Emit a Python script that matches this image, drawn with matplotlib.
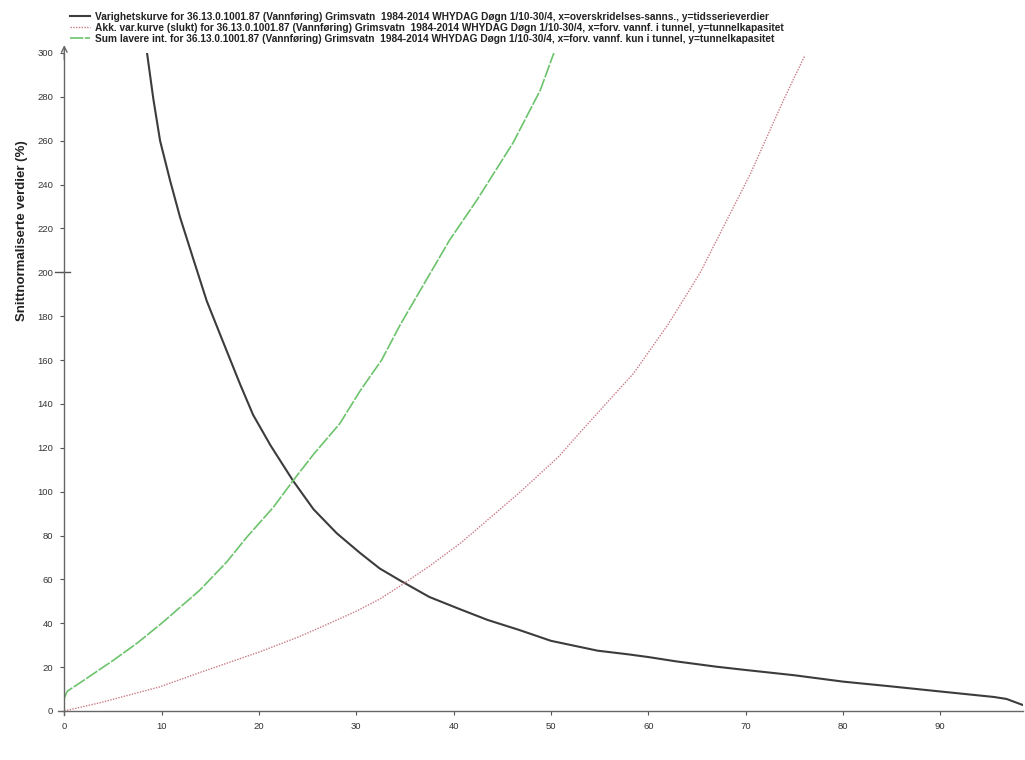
import matplotlib
matplotlib.use('Agg')
import matplotlib.pyplot as plt
import matplotlib.transforms as mtransforms

# varighetskurve (black)
dur_x = [8.5, 9.15, 9.84, 10.86, 11.9, 13.26, 14.63, 16.34, 18.06, 19.4, 21.2, 23.5, 25.6,
         28, 30.4, 32.4, 34.5, 37.5, 40.6, 43.5, 46.7, 50, 54.8, 58, 60, 62.9, 67, 70,
         75, 80, 85, 90, 95.5, 96.8, 98.5]
dur_y = [300, 279, 260, 242, 225, 206, 187, 168, 149, 135, 121, 105, 92,
         81, 72, 65, 59.5, 52, 46.5, 41.5, 37, 32, 27.5, 25.8, 24.6, 22.6, 20.2, 18.7,
         16.3, 13.4, 11.2, 8.9, 6.4, 5.5, 2.7]

# akk. var.kurve (red dotted)
akk_x = [0, 3.7, 9.8, 13.9, 20.1, 24.2, 27, 30, 32.4, 34.5, 37.5, 40.7, 46.7, 50.8, 52.3,
         56, 58.5, 62, 65.3, 70.5, 73.9, 76.1]
akk_y = [0, 3.8, 11, 17.5, 27, 34, 39.5, 45.5, 51, 57, 66, 76.5, 99.3, 116, 123.6,
         141.8, 154, 176, 199.6, 245, 278.6, 299]

# sum lavere int. (green dashed)
sum_x = [0, 0.3, 2, 5, 7.5, 10, 13.9, 16.7, 18.7, 21.5, 23.5, 25.6, 28.3, 30.4, 32.6,
         34.5, 36.6, 39.6, 42.4, 46.1, 48.9, 50.3]
sum_y = [6, 9, 14, 23, 31, 40, 55, 68, 79, 93, 105, 117, 131, 146, 160,
         176, 192, 214.8, 233, 259, 283, 300]

labels = [
    "Varighetskurve for 36.13.0.1001.87 (Vannføring) Grimsvatn  1984-2014 WHYDAG Døgn 1/10-30/4, x=overskridelses-sanns., y=tidsserieverdier",
    "Akk. var.kurve (slukt) for 36.13.0.1001.87 (Vannføring) Grimsvatn  1984-2014 WHYDAG Døgn 1/10-30/4, x=forv. vannf. i tunnel, y=tunnelkapasitet",
    "Sum lavere int. for 36.13.0.1001.87 (Vannføring) Grimsvatn  1984-2014 WHYDAG Døgn 1/10-30/4, x=forv. vannf. kun i tunnel, y=tunnelkapasitet",
]

plt.rcParams['font.family'] = ['Liberation Sans', 'DejaVu Sans']

fig = plt.figure(figsize=(10.25, 7.6), dpi=100)
ax = fig.add_axes([64.3 / 1025, 1 - 711 / 760, (1023 - 64.3) / 1025, (711 - 53) / 760])

l1, = ax.plot(dur_x, dur_y, color='#3c3c3c', lw=1.5)
l2, = ax.plot(akk_x, akk_y, color='#c97b86', lw=1.0, ls=(0, (1, 1)))
l3, = ax.plot(sum_x, sum_y, color='#6cc36c', lw=1.2, ls=(0, (8, 1)))

ax.set_xlim(0, 98.5)
ax.set_ylim(0, 300)
ax.set_xticks(range(0, 100, 10))
ax.set_yticks(range(0, 301, 20))
ax.tick_params(axis='both', direction='out', length=3, width=0.8, colors='#555555',
               labelsize=6.8, labelcolor='#333333', pad=5)

for s in ['top', 'right']:
    ax.spines[s].set_visible(False)
for s in ['left', 'bottom']:
    ax.spines[s].set_color('#666666')
    ax.spines[s].set_linewidth(1.0)

# little extensions of the axis lines and arrow on the y axis
ax.plot([-0.007, 0], [0, 0], transform=ax.transAxes, color='#666666', lw=1.0, clip_on=False)
ax.plot([0, 0], [-0.006, 0], transform=ax.transAxes, color='#666666', lw=1.0, clip_on=False)
ax.annotate('', xy=(0, 1.012), xytext=(0, 0.99), xycoords='axes fraction',
            arrowprops=dict(arrowstyle='->', lw=1.0, color='#666666', shrinkA=0, shrinkB=0))
tr = mtransforms.blended_transform_factory(ax.transAxes, ax.transData)
ax.plot([-0.01, 0.006], [200, 200], transform=tr, color='#555555', lw=1.0, clip_on=False)

ax.set_ylabel('Snittnormaliserte verdier (%)', fontsize=9.5, fontweight='bold', color='#222222')
ax.yaxis.set_label_coords(-0.038, 0.73)

fig.legend([l1, l2, l3], labels, loc='upper left', bbox_to_anchor=(70 / 1025, 1 - 12 / 760),
           frameon=False, prop={'weight': 'bold', 'size': 7.25},
           handlelength=2.0, handletextpad=0.5, labelspacing=0.1, borderpad=0,
           borderaxespad=0)
for t in fig.legends[0].get_texts():
    t.set_color('#222222')

fig.savefig('out.png', dpi=100, facecolor='white')
